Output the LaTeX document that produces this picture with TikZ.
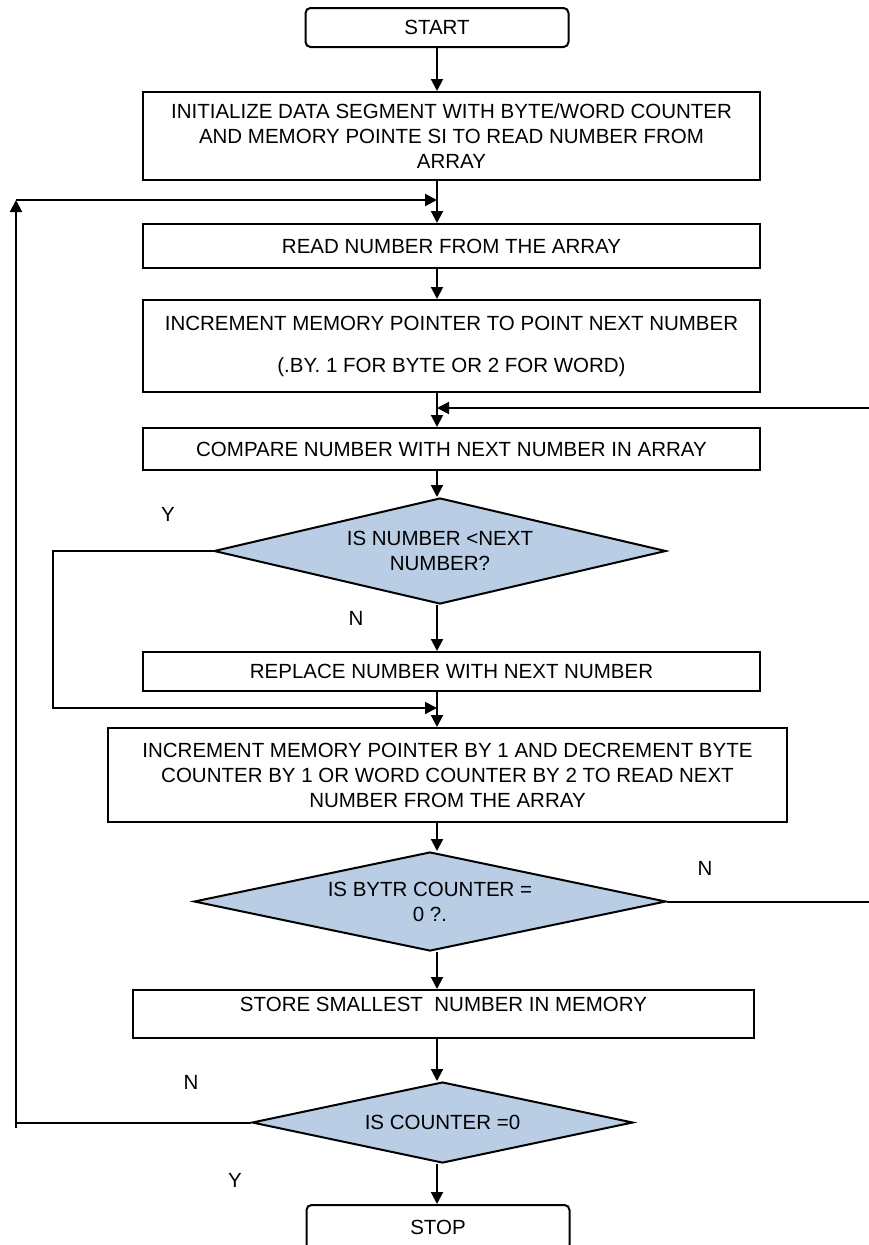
\documentclass[tikz,border=0pt]{standalone}
\usepackage{fontspec}
\setmainfont{Liberation Sans}
\usetikzlibrary{arrows.meta,shapes.geometric}

\definecolor{decfill}{HTML}{B9CDE5}

\begin{document}
\begin{tikzpicture}[x=1pt,y=-1pt,
  font=\fontsize{20.5}{25}\selectfont,
  box/.style={draw,line width=2pt,inner sep=2pt,align=center},
  term/.style={box,rounded corners=5pt,minimum width=263pt},
  dec/.style={diamond,draw,line width=2pt,fill=decfill,inner sep=0pt,
    shape aspect=4.5,align=center},
  flow/.style={line width=2pt,-{Triangle[length=12pt,width=12pt]}},
  lbl/.style={inner sep=0pt}
]

\useasboundingbox (0,0) rectangle (868,1245);

% main column
\coordinate (col) at (437,0);

\node[term,minimum height=39pt] (start) at (437,27.5) {START};

\node[box,minimum width=617pt,minimum height=88pt] (init) at (451.5,136)
{INITIALIZE DATA SEGMENT WITH BYTE/WORD COUNTER\\
AND MEMORY POINTE SI TO READ NUMBER FROM\\ARRAY};

\node[box,minimum width=617pt,minimum height=44pt] (read) at (451.5,246)
{READ NUMBER FROM THE ARRAY};

\node[box,minimum width=617pt,minimum height=92pt] (incr) at (451.5,346)
{INCREMENT MEMORY POINTER TO POINT NEXT NUMBER\\[17pt]
(.BY. 1 FOR BYTE OR 2 FOR WORD)};

\node[box,minimum width=617pt,minimum height=42pt] (cmp) at (451.5,449)
{COMPARE NUMBER WITH NEXT NUMBER IN ARRAY};

\node[dec,minimum width=452pt,minimum height=106pt] (dec1) at (440,551)
{IS NUMBER <NEXT\\NUMBER?};

\node[box,minimum width=617pt,minimum height=39pt] (replace) at (451.5,671.5)
{REPLACE NUMBER WITH NEXT NUMBER};

\node[box,minimum width=679pt,minimum height=94pt] (incr2) at (447.5,775)
{INCREMENT MEMORY POINTER BY 1 AND DECREMENT BYTE\\
COUNTER BY 1 OR WORD COUNTER BY 2 TO READ NEXT\\
NUMBER FROM THE ARRAY};

\node[dec,minimum width=472pt,minimum height=99pt] (dec2) at (430,901.5)
{IS BYTR COUNTER =\\0 ?.};

\node[box,minimum width=621pt,minimum height=48pt,text depth=20pt] (store) at (443.5,1014)
{STORE SMALLEST\ \ NUMBER IN MEMORY};

\node[dec,minimum width=381pt,minimum height=81pt] (dec3) at (442.5,1122.5)
{IS COUNTER =0};

\node[term,minimum height=45pt] (stop) at (438,1227.5) {STOP};

% branch labels
\node[lbl] (y1) at (168,514) {Y};
\node[lbl] (n1) at (356,618) {N};
\node[lbl] (n2) at (705,868) {N};
\node[lbl] (n3) at (191,1082) {N};
\node[lbl] (y3) at (235,1180) {Y};

% straight flow
\foreach \a/\b in {start/init,init/read,read/incr,incr/cmp,cmp/dec1,
  dec1/replace,replace/incr2,incr2/dec2,dec2/store,store/dec3,dec3/stop}
  \draw[flow] (col |- \a.south) -- (col |- \b.north);

% skip replace
\coordinate (skip) at (53,708);
\draw[flow] (dec1.west) -| (skip) -- (col |- skip);

% back to compare
\coordinate (rback) at (885,408);
\draw[flow] (dec2.east) -| (rback) -- (col |- rback);

% back to read
\coordinate (lback) at (16,200);
\coordinate (lend) at (16,1128);
\draw[line width=2pt] (dec3.west) -- (dec3.west -| lback);
\draw[flow] (lend) -- (lback);
\draw[flow] (lback) -- (col |- lback);

\end{tikzpicture}
\end{document}
